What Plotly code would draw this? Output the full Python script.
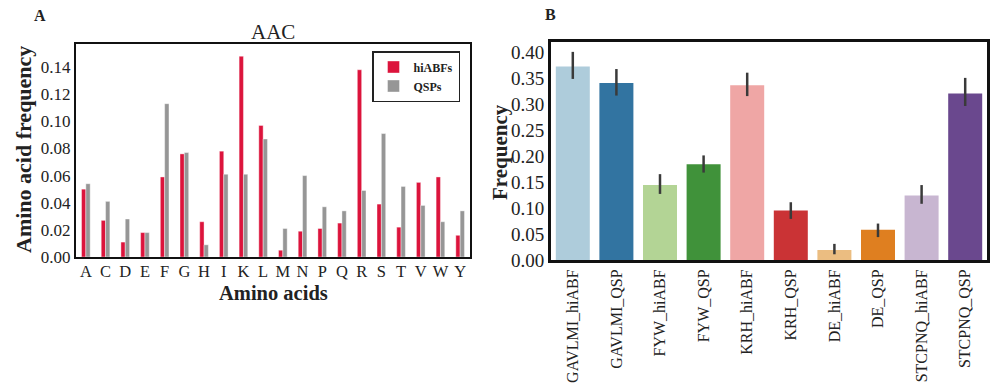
import plotly.graph_objects as go

# Panel A data
amino_acids = ["A","C","D","E","F","G","H","I","K","L","M","N","P","Q","R","S","T","V","W","Y"]
hiabf_freq = [0.050,0.027,0.011,0.018,0.059,0.076,0.026,0.078,0.148,0.097,0.005,0.019,0.021,0.025,0.138,0.039,0.022,0.055,0.059,0.016]
qsp_freq   = [0.054,0.041,0.028,0.018,0.113,0.077,0.009,0.061,0.061,0.087,0.021,0.060,0.037,0.034,0.049,0.091,0.052,0.038,0.026,0.034]

# Panel B data
groups = ["GAVLMI_hiABF","GAVLMI_QSP","FYW_hiABF","FYW_QSP","KRH_hiABF","KRH_QSP","DE_hiABF","DE_QSP","STCPNQ_hiABF","STCPNQ_QSP"]
group_freq = [0.372,0.340,0.144,0.184,0.336,0.095,0.019,0.058,0.124,0.320]
err_high   = [0.400,0.367,0.165,0.201,0.360,0.111,0.031,0.070,0.144,0.350]
err_low    = [0.348,0.316,0.127,0.168,0.315,0.079,0.011,0.044,0.108,0.296]
group_colors = ["#aeccdb","#3274a1","#b3d495","#40923a","#efa6a5","#ca3335","#ebbd81","#df7f20","#c8b6d1","#6a488e"]

FONT = "Liberation Serif"

fig = go.Figure()

fig.add_trace(go.Bar(x=amino_acids, y=hiabf_freq, name="<b>hiABFs</b>", marker=dict(color="#dc143c", line=dict(color="white", width=0.4)),
                     width=0.22, offset=-0.22, xaxis="x", yaxis="y"))
fig.add_trace(go.Bar(x=amino_acids, y=qsp_freq, name="<b>QSPs</b>", marker=dict(color="#969696", line=dict(color="white", width=0.4)),
                     width=0.22, offset=0.0, xaxis="x", yaxis="y"))

fig.add_trace(go.Bar(x=groups, y=group_freq, marker=dict(color=group_colors, line=dict(width=0)), width=0.78,
                     error_y=dict(type="data", symmetric=False,
                                  array=[h - v for h, v in zip(err_high, group_freq)],
                                  arrayminus=[v - l for l, v in zip(err_low, group_freq)],
                                  color="#3a3a3a", thickness=2.5, width=0),
                     showlegend=False, xaxis="x2", yaxis="y2"))

def axis_style(lw, fsize):
    return dict(showline=True, linecolor="#111", linewidth=lw, mirror=True, showgrid=False, zeroline=False, ticks="",
                tickfont=dict(family=FONT, size=fsize, color="#222"))

def ann(text, x, y, size, angle=0):
    return dict(text=text, x=x / 1000, y=1 - y / 388, xref="paper", yref="paper", showarrow=False,
                xanchor="center", yanchor="middle", textangle=angle,
                font=dict(family=FONT, size=size, color="#222"))

fig.update_layout(
    width=1000, height=388, margin=dict(l=0, r=0, t=0, b=0, autoexpand=False),
    paper_bgcolor="white", plot_bgcolor="white", barmode="overlay",
    font=dict(family=FONT, color="#222"),
    xaxis=dict(domain=[0.076, 0.470], anchor="y", tickmode="array", tickvals=amino_acids, ticktext=amino_acids,
               range=[-0.5, 19.5], ticklabelstandoff=-2, **axis_style(2, 16.5)),
    yaxis=dict(domain=[0.3376, 0.8866], anchor="x", range=[0, 0.157], tickvals=[0,0.02,0.04,0.06,0.08,0.10,0.12,0.14],
               tickformat=".2f", **axis_style(2, 17)),
    xaxis2=dict(domain=[0.551, 0.987], anchor="y2", tickangle=-90, range=[-0.5, 9.5], **axis_style(3, 16)),
    yaxis2=dict(domain=[0.3299, 0.8918], anchor="x2", range=[0, 0.419], tickvals=[0,0.05,0.10,0.15,0.20,0.25,0.30,0.35,0.40],
                tickformat=".2f", **axis_style(3, 19)),
    legend=dict(x=0.372, y=1 - 51 / 388, xanchor="left", yanchor="top", bordercolor="#222", borderwidth=1.5,
                bgcolor="white", font=dict(family=FONT, size=12, color="#222"), itemwidth=30,
                tracegroupgap=0),
    annotations=[
        ann("<b>A</b>", 40, 16, 16),
        ann("<b>B</b>", 550, 15, 16),
        ann("AAC", 273, 32, 21),
        ann("<b>Amino acid frequency</b>", 24, 150, 22, -90),
        ann("<b>Amino acids</b>", 273, 293, 20.5),
        ann("<b>Frequency</b>", 500, 152, 21, -90),
    ],
)

fig.write_html("out.html", config={"displayModeBar": False}, post_script="document.body.style.margin='0px';")
